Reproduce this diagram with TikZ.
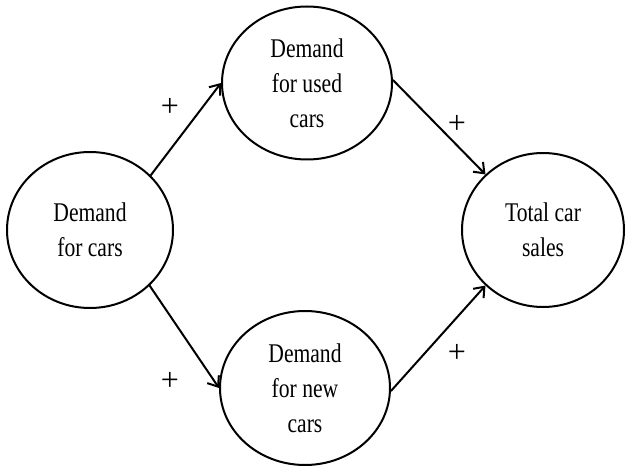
\documentclass[tikz,border=0pt]{standalone}
\usepackage{fontspec}
\setmainfont[FakeStretch=0.8]{Liberation Serif}
\newfontfamily\plainserif{Liberation Serif}
\usetikzlibrary{shapes.geometric,arrows.meta}
\begin{document}
\begin{tikzpicture}[x=1pt,y=-1pt,
  bubble/.style={draw, line width=2pt, ellipse, inner sep=0pt, align=center,
    font=\fontsize{27}{35}\selectfont},
  link/.style={line width=2pt, -{Straight Barb[length=9pt,width=14pt,line width=2pt]}},
  sign/.style={font=\plainserif\fontsize{32}{32}\selectfont, inner sep=0pt}]
\useasboundingbox (0,0) rectangle (629,470);
\node[bubble, minimum width=166pt, minimum height=156pt] (cars) at (90,230) {Demand\\for cars};
\node[bubble, minimum width=170pt, minimum height=153pt] (used) at (307,83) {Demand\\for used\\cars};
\node[bubble, minimum width=170pt, minimum height=154pt] (new) at (305,388) {Demand\\for new\\cars};
\node[bubble, minimum width=162pt, minimum height=154pt] (total) at (543,230) {Total car\\sales};
\draw[link] (cars.42) -- (used.180);
\draw[link] (used.2) -- (total.136);
\draw[link] (cars.-43) -- (new.180);
\draw[link] (new.-2) -- (total.224);
\node[sign] (p1) at (170,107) {+};
\node[sign] (p2) at (457,124) {+};
\node[sign] (p3) at (170,381) {+};
\node[sign] (p4) at (457,353) {+};
\end{tikzpicture}
\end{document}
